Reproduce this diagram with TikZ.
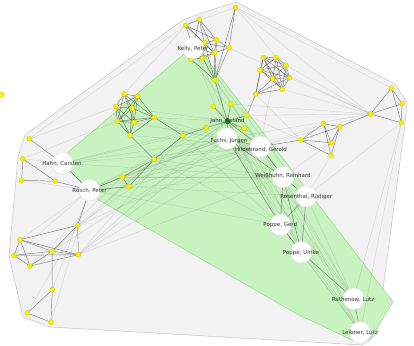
\documentclass[tikz,border=0pt]{standalone}
\usepackage{fontspec}
\newfontfamily\labfont{DejaVu Sans}
\definecolor{hullfill}{HTML}{F2F2F2}
\definecolor{hullline}{HTML}{C4C4C4}
\definecolor{greenfill}{HTML}{C8F2C0}
\definecolor{greenline}{HTML}{9CD890}
\definecolor{dotfill}{HTML}{F8F000}
\definecolor{dotline}{HTML}{D8C800}
\definecolor{labcol}{HTML}{333333}
\tikzset{
  dot/.style={circle,fill=dotfill,draw=dotline,line width=0.3pt,inner sep=0pt,minimum size=5pt},
  jdot/.style={circle,fill=green!60!black,draw=green!40!black,line width=0.3pt,inner sep=0pt,minimum size=5pt},
  bignode/.style={circle,fill=white,draw=black!12,line width=0.4pt,inner sep=0pt,minimum size=21.5pt},
  lab/.style={font=\labfont\fontsize{5.5}{6.5}\selectfont,text=labcol,inner sep=0pt},
  dk/.style={draw=black!75,opacity=0.65,line width=0.45pt},
  ft/.style={draw=black,opacity=0.13,line width=0.35pt}
}
\begin{document}
\begin{tikzpicture}[x=1pt,y=-1pt]
\useasboundingbox (0,0) rectangle (414,345);
% hulls
\draw[fill=hullfill,draw=hullline,line width=0.5pt]
 (183,20) -- (199,14) -- (236,2) -- (395,84) -- (407,103) -- (405,124) -- (377,334)
 -- (362,345) -- (50,327) -- (23,317) -- (9,256) -- (18,157) -- (25,135) -- cycle;
\draw[fill=greenfill,draw=greenline,line width=0.5pt]
 (184,54) -- (199,49) -- (393,302) -- (369,341) -- (352,340) -- (297,314) -- (97,199)
 -- (70,171) -- (66,154) -- cycle;
% yellow nodes
\foreach \n/\x/\y in {
 k1/185.7/25.3, k2/199.3/19.3, k3/204.2/42.8, k4/190.8/59, k5/202.7/58.3, k6/216.5/40,
 k7/229/47.7, k8/214.3/53, k9/214.8/80, tp/235.5/7.3,
 b1/263.3/57.5, b2/276.2/57.3, b3/286/65.3, b4/260.2/70, b5/289.5/77.7, b6/272.8/78.7,
 b7/282.3/89.2, b8/255.8/94,
 j1/213.3/106.5, j2/230.8/104, j3/247/115.3, j4/244/128.5, m2/206.3/127.7, m1/183/135.7, m3/154/159.5,
 a1/124/94, a2/137.7/96.3, a3/115.7/106.7, a4/132.3/108.3, a5/117.3/121.3, a6/134/122.3,
 a7/130/135.3, a8/154.3/117.5, n1/122.3/177, n2/128.8/186.7,
 h1/29.3/138.8, h2/22.8/158.7, h3/21.7/180.2, h4/55.5/181.3,
 l1/77.7/225.3, l2/20/239.7, l3/14/255.3, l4/52/251.3, l5/78.3/254.7, l6/30/266,
 l7/52.3/289.7, l8/27.3/313, l9/51/322.3,
 r1/300.7/140, r2/323.7/123.8, r3/339.7/126.7, r4/331/142.7, r5/331/155.5,
 r6/370.5/114, r7/391.5/88.2, r8/402/103.7, r9/401.3/122.7, lone/1.7/94.7}
 \coordinate (\n) at (\x,\y);
\coordinate (jahn) at (227.5,121.3);
\foreach \n/\x/\y in {kelly/193/48, fuchs/227/138.5, hild/260.5/146.7, hahn/62.3/163.3,
 rosch/89.5/190.2, weiss/283/177, rosen/306.3/196.3, poppeg/280.3/224.8, poppeu/301.3/252.3,
 rath/353.7/298.7, leib/360.3/332.3}
 \coordinate (\n) at (\x,\y);
% faint edges
\foreach \u/\v in {rosch/jahn, rosch/fuchs, rosch/hild, rosch/weiss, rosch/j4, rosch/m2,
 hahn/jahn, hahn/fuchs, hahn/m1, hahn/hild, n1/fuchs, n2/hild, m3/fuchs, m3/weiss, a8/fuchs,
 a8/jahn, a6/hild, kelly/fuchs, kelly/weiss, kelly/poppeg, k4/hild, k5/rosen, jahn/poppeu,
 jahn/poppeg, fuchs/rath, fuchs/leib, hild/rath, hild/poppeu, weiss/rath, poppeg/leib,
 poppeu/leib, rosen/rath, j4/poppeu, j2/weiss, r6/b5, r6/b7, r6/j2, r6/j3, r6/hild, r6/fuchs,
 r6/k7, r6/tp, r6/b3, r7/tp, r1/b8, r1/j3, r2/hild, tp/k1, tp/b2, k1/h1, k1/a1, h1/a3, h2/a5,
 l1/jahn, l4/fuchs, l5/hild, l5/jahn, l2/rosch, l3/rosch, l6/n1, l7/rosch, l9/rosch, l8/l1,
 rath/r9, leib/r9, r9/rosen, r5/rosen, r4/weiss, l1/m1, l5/m1, l4/m3, h3/rosch, h2/hahn,
 a5/fuchs, a3/jahn, a7/hild, m3/poppeg, n1/weiss, n2/rosen, l1/hild, l5/fuchs, b8/fuchs,
 b6/hild, k9/hild, k8/fuchs, j1/hild, jahn/rath, jahn/leib, hild/leib, weiss/leib,
 n1/hild, n2/jahn, m3/hild, a8/weiss, m1/poppeg, hahn/weiss, rosch/poppeg, l5/weiss}
 \draw[ft] (\u) -- (\v);
% dark edges
\foreach \u/\v in {k1/k2, k1/k3, k1/kelly, k1/k8, k1/k6, k2/k3, k2/k6, k2/k8, k2/kelly,
 k3/k6, k3/k8, k3/k7, k3/k5, k3/kelly, k6/k7, k6/k8, k7/k8, k8/k5, k8/k4, k4/k5, kelly/k4,
 kelly/k5, kelly/k8, k7/k9, k8/k9, k5/k9, k4/k9, k3/k9, k6/k9, tp/k9, tp/k7, k9/jahn,
 b1/b2, b1/b3, b1/b4, b1/b5, b1/b6, b1/b7, b2/b3, b2/b4, b2/b5, b2/b6, b2/b7, b3/b4, b3/b5,
 b3/b6, b3/b7, b4/b5, b4/b6, b4/b7, b5/b6, b5/b7, b6/b7, b8/b1, b8/b4, b8/b6, b8/b7, b8/b5,
 b8/j3,
 jahn/j1, jahn/j2, jahn/j3, jahn/j4, jahn/m2, jahn/fuchs, jahn/hild, m2/m1, m1/a8, m1/m3,
 a7/m3, m3/n1, m3/n2, n1/rosch, n2/rosch, n1/n2,
 a1/a2, a1/a3, a1/a4, a1/a5, a1/a6, a2/a3, a2/a4, a2/a5, a2/a6, a3/a4, a3/a5, a3/a6, a4/a5,
 a4/a6, a5/a6, a5/a7, a6/a7, a4/a7, a3/a7, a8/a1, a8/a2, a8/a4, a8/a5, a8/a6, a8/a7,
 h1/hahn, h2/h4, h3/h4, h2/h3, h4/rosch, hahn/rosch,
 rosch/l1, l1/l5, l1/l4, l1/l2, l2/l3, l2/l4, l2/l6, l2/l5, l3/l4, l3/l6, l3/l5, l4/l6,
 l4/l5, l6/l5, l4/l7, l7/l8, l7/l9, l8/l9,
 hild/r1, r1/r2, r1/r3, r1/r4, r1/r5, r2/r3, r2/r4, r2/r5, r3/r4, r3/r5, r3/r6, r6/r7,
 r6/r8, r6/r9, r7/r8, r7/r9, r8/r9,
 fuchs/hild, hild/weiss, weiss/rosen, weiss/poppeg, weiss/poppeu, rosen/poppeg,
 poppeg/poppeu, rosen/poppeu, poppeu/rath, rath/leib, fuchs/poppeg, fuchs/weiss}
 \draw[dk] (\u) -- (\v);
% draw yellow dots
\foreach \n in {k1,k2,k3,k4,k5,k6,k7,k8,k9,tp,b1,b2,b3,b4,b5,b6,b7,b8,j1,j2,j3,j4,m1,m2,m3,
 a1,a2,a3,a4,a5,a6,a7,a8,n1,n2,h1,h2,h3,h4,l1,l2,l3,l4,l5,l6,l7,l8,l9,
 r1,r2,r3,r4,r5,r6,r7,r8,r9,lone}
 \node[dot] (d\n) at (\n) {};
\node[jdot] (djahn) at (jahn) {};
% big circles
\foreach \n in {kelly,fuchs,hild,hahn,rosch,weiss,rosen,poppeg,poppeu,rath,leib}
 \node[bignode] (c\n) at (\n) {};
% labels
\node[lab] (Lkelly) at (193,48.5) {Kelly, Peter};
\node[lab] (Ljahn) at (227.5,121.3) {Jahn, Roland};
\node[lab] (Lfuchs) at (229,140.7) {Fuchs, Jürgen};
\node[lab] (Lhild) at (261,150) {Hildebrand, Gerold};
\node[lab] (Lhahn) at (62,163.3) {Hahn, Carsten};
\node[lab] (Lrosch) at (89.5,190.3) {Rösch, Peter};
\node[lab] (Lweiss) at (283,176) {Weißhuhn, Reinhard};
\node[lab] (Lrosen) at (306.3,197) {Rosenthal, Rüdiger};
\node[lab] (Lpoppeg) at (280.3,225.3) {Poppe, Gerd};
\node[lab] (Lpoppeu) at (301,252.7) {Poppe, Ulrike};
\node[lab] (Lrath) at (353,299.3) {Rathenow, Lutz};
\node[lab] (Lleib) at (360,332.7) {Leibner, Lutz};
\end{tikzpicture}
\end{document}
